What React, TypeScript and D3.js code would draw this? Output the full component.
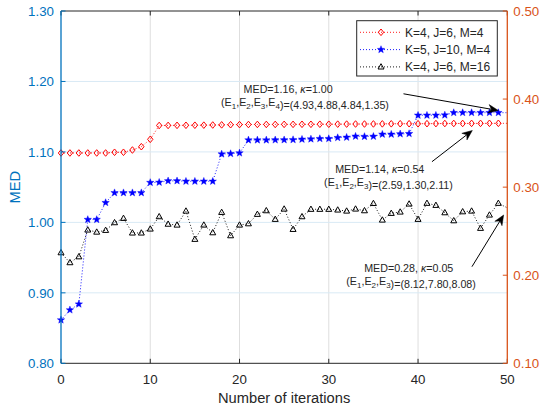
import React, { useEffect } from 'react';
import * as d3 from 'd3';

const iterations = d3.range(0, 51);

const redSeries = [
  1.0985, 1.0985, 1.0985, 1.0985, 1.0985, 1.0985, 1.0995, 1.0995, 1.1027, 1.1074,
  1.1179, 1.1375, 1.1376, 1.1377, 1.1378, 1.1379, 1.138, 1.1382, 1.1384, 1.1386,
  1.1388, 1.1389, 1.139, 1.139, 1.139, 1.1391, 1.1391, 1.1392, 1.1392, 1.1393,
  1.1393, 1.1394, 1.1395, 1.1396, 1.1396, 1.1397, 1.1398, 1.1399, 1.14, 1.14,
  1.14, 1.1401, 1.1402, 1.1403, 1.1404, 1.1404, 1.1405, 1.1405, 1.1406, 1.1406,
  1.1406,
];

const blueSeries = [
  0.8615, 0.8757, 0.884, 1.004, 1.004, 1.028, 1.042, 1.042, 1.042, 1.042,
  1.0565, 1.0568, 1.0589, 1.0589, 1.0583, 1.0583, 1.0583, 1.0583, 1.097, 1.0975,
  1.0985, 1.1169, 1.1169, 1.1169, 1.117, 1.1171, 1.1173, 1.1179, 1.1183, 1.1188,
  1.1188, 1.1202, 1.1207, 1.1222, 1.1218, 1.122, 1.125, 1.125, 1.1255, 1.1259,
  1.152, 1.152, 1.152, 1.1523, 1.1557, 1.1557, 1.1557, 1.1557, 1.1557, 1.1557,
  1.1557,
];

const blackSeries = [
  0.2256, 0.2143, 0.221, 0.2514, 0.249, 0.251, 0.2597, 0.2646, 0.248, 0.248,
  0.2525, 0.2665, 0.258, 0.257, 0.2729, 0.2408, 0.257, 0.2483, 0.2714, 0.2449,
  0.257, 0.2585, 0.2692, 0.2733, 0.2635, 0.2752, 0.2521, 0.2665, 0.2749, 0.2749,
  0.2749, 0.2741, 0.2729, 0.2752, 0.2733, 0.2815, 0.2627, 0.2703, 0.2718, 0.2809,
  0.2635, 0.2817, 0.2794, 0.271, 0.2619, 0.2721, 0.2729, 0.2533, 0.2684, 0.2817,
  0.2765,
];

const xTicks = [0, 10, 20, 30, 40, 50];
const leftTicks = [0.8, 0.9, 1.0, 1.1, 1.2, 1.3];
const rightTicks = [0.1, 0.2, 0.3, 0.4, 0.5];
const legendLabels = ['K=4, J=6, M=4', 'K=5, J=10, M=4', 'K=4, J=6, M=16'];
const xLabel = 'Number of iterations';
const yLabel = 'MED';

const annoMed = ['1.16', '1.14', '0.28'];
const annoKappa = ['1.00', '0.54', '0.05'];
const annoSubs = [['1', '2', '3', '4'], ['1', '2', '3'], ['1', '2', '3']];
const annoVals = ['(4.93,4.88,4.84,1.35)', '(2.59,1.30,2.11)', '(8.12,7.80,8.08)'];

const FONT = '"Liberation Sans", Arial, Helvetica, sans-serif';
const BLUE_AX = '#0072BD';
const ORANGE_AX = '#D95319';
const TXT = '#262626';

const W = 542;
const H = 409;
const L = 61;
const R = 507.3;
const T = 11;
const B = 363.3;

const x = d3.scaleLinear().domain([0, 50]).range([L, R]);
const yL = d3.scaleLinear().domain([0.8, 1.3]).range([B, T]);
const yR = d3.scaleLinear().domain([0.1, 0.5]).range([B, T]);

// annotation placement in data space (x: iteration, y: left-axis value)
const annoLine1 = [[25.45, 1.1836], [35.71, 1.0701], [38.96, 0.9296]];
const annoLine2 = [[27.33, 1.1658], [36.69, 1.0517], [39.22, 0.9112]];
const arrowFrom = [[38.37, 1.1825], [41.56, 1.0861], [46.04, 0.9371]];
const arrowTo = [[48.99, 1.1588], [46.08, 1.1304], [49.59, 1.0105]];

function diamondPath() {
  return 'M0,-3.3L2.7,0L0,3.3L-2.7,0Z';
}
function starPath(r: number) {
  const pts: string[] = [];
  for (let i = 0; i < 10; i++) {
    const rr = i % 2 === 0 ? r : r * 0.42;
    const a = -Math.PI / 2 + (i * Math.PI) / 5;
    pts.push(`${(rr * Math.cos(a)).toFixed(2)},${(rr * Math.sin(a)).toFixed(2)}`);
  }
  return 'M' + pts.join('L') + 'Z';
}
function trianglePath() {
  return 'M0,-3.2L3,2.1L-3,2.1Z';
}

function Marker({ kind }: { kind: number }) {
  if (kind === 0) return <path d={diamondPath()} fill="none" stroke="#FF0000" strokeWidth={1} />;
  if (kind === 1) return <path d={starPath(3.9)} fill="#0000FF" stroke="#0000FF" strokeWidth={0.4} />;
  return <path d={trianglePath()} fill="none" stroke="#000000" strokeWidth={1} />;
}

function Arrow({ from, to }: { from: number[]; to: number[] }) {
  const x1 = x(from[0]);
  const y1 = yL(from[1]);
  const x2 = x(to[0]);
  const y2 = yL(to[1]);
  const dx = x2 - x1;
  const dy = y2 - y1;
  const len = Math.hypot(dx, dy);
  const ux = dx / len;
  const uy = dy / len;
  const px = -uy;
  const py = ux;
  const hl = 10;
  const hw = 4.2;
  const bx = x2 - ux * hl;
  const by = y2 - uy * hl;
  const nx = x2 - ux * hl * 0.7;
  const ny = y2 - uy * hl * 0.7;
  const head = `M${x2},${y2}L${bx + px * hw},${by + py * hw}L${nx},${ny}L${bx - px * hw},${by - py * hw}Z`;
  return (
    <g>
      <line x1={x1} y1={y1} x2={nx} y2={ny} stroke="#000" strokeWidth={1} />
      <path d={head} fill="#000" stroke="#000" strokeWidth={0.5} />
    </g>
  );
}

export default function App() {
  useEffect(() => {
    document.body.style.margin = '0';
  }, []);

  const seriesLeft = [redSeries, blueSeries];
  const colors = ['#FF0000', '#0000FF', '#000000'];
  const lineL = d3.line<number>().x((_, i) => x(iterations[i])).y((d) => yL(d));
  const lineR = d3.line<number>().x((_, i) => x(iterations[i])).y((d) => yR(d));
  const inView = (i: number) => iterations[i] < 50;

  const tickLen = 4.5;

  return (
    <svg width={W} height={H} style={{ display: 'block', fontFamily: FONT }}>
      <rect x={0} y={0} width={W} height={H} fill="#fff" />
      <defs>
        <clipPath id="plotClip">
          <rect x={L} y={T} width={R - L} height={B - T} />
        </clipPath>
      </defs>
      {/* grid */}
      {xTicks.filter((t) => t > 0 && t < 50).map((t) => (
        <line key={'gx' + t} x1={x(t)} x2={x(t)} y1={T} y2={B} stroke="#DEDEDE" strokeWidth={1} />
      ))}
      {leftTicks.filter((t) => t > 0.8 && t < 1.3).map((t) => (
        <line key={'gy' + t} x1={L} x2={R} y1={yL(t)} y2={yL(t)} stroke="#D9EAF5" strokeWidth={1} />
      ))}

      {/* series */}
      <g clipPath="url(#plotClip)">
        {seriesLeft.map((s, k) => (
          <path key={'l' + k} d={lineL(s) || ''} fill="none" stroke={colors[k]} strokeWidth={0.9} strokeDasharray="1 2" />
        ))}
        <path d={lineR(blackSeries) || ''} fill="none" stroke="#000" strokeWidth={0.9} strokeDasharray="1 2" />
      </g>
      {blackSeries.map((v, i) =>
        inView(i) ? (
          <g key={'mb' + i} transform={`translate(${x(iterations[i])},${yR(v)})`}>
            <Marker kind={2} />
          </g>
        ) : null
      )}
      {redSeries.map((v, i) =>
        inView(i) ? (
          <g key={'mr' + i} transform={`translate(${x(iterations[i])},${yL(v)})`}>
            <Marker kind={0} />
          </g>
        ) : null
      )}
      {blueSeries.map((v, i) =>
        inView(i) ? (
          <g key={'mu' + i} transform={`translate(${x(iterations[i])},${yL(v)})`}>
            <Marker kind={1} />
          </g>
        ) : null
      )}

      {/* axes */}
      <line x1={L} x2={R} y1={T} y2={T} stroke={TXT} strokeWidth={1} />
      <line x1={L} x2={R} y1={B} y2={B} stroke={TXT} strokeWidth={1} />
      {xTicks.map((t) => (
        <g key={'xt' + t}>
          <line x1={x(t)} x2={x(t)} y1={B} y2={B - tickLen} stroke={TXT} strokeWidth={1} />
          <line x1={x(t)} x2={x(t)} y1={T} y2={T + tickLen} stroke={TXT} strokeWidth={1} />
          <text x={x(t)} y={384} textAnchor="middle" fontSize={13.3} fill={TXT}>
            {t}
          </text>
        </g>
      ))}
      <line x1={L} x2={L} y1={T} y2={B} stroke={BLUE_AX} strokeWidth={1.3} />
      {leftTicks.map((t) => (
        <g key={'yl' + t}>
          <line x1={L} x2={L + tickLen} y1={yL(t)} y2={yL(t)} stroke={BLUE_AX} strokeWidth={1} />
          <text x={L - 7} y={yL(t)} dy="0.36em" textAnchor="end" fontSize={13.3} fill={BLUE_AX}>
            {t.toFixed(2)}
          </text>
        </g>
      ))}
      <line x1={R} x2={R} y1={T} y2={B} stroke={ORANGE_AX} strokeWidth={1.3} />
      {rightTicks.map((t) => (
        <g key={'yr' + t}>
          <line x1={R} x2={R - tickLen} y1={yR(t)} y2={yR(t)} stroke={ORANGE_AX} strokeWidth={1} />
          <text x={R + 6} y={yR(t)} dy="0.36em" textAnchor="start" fontSize={13.3} fill={ORANGE_AX}>
            {t.toFixed(2)}
          </text>
        </g>
      ))}

      {/* axis labels */}
      <text x={(L + R) / 2} y={402.5} textAnchor="middle" fontSize={14.7} fill={TXT}>
        {xLabel}
      </text>
      <text transform={`translate(19.5,${(T + B) / 2}) rotate(-90)`} textAnchor="middle" fontSize={14.7} fill={BLUE_AX}>
        {yLabel}
      </text>

      {/* annotations */}
      {annoMed.map((m, k) => (
        <g key={'an' + k} fontSize={10.7} fill={TXT}>
          <text x={x(annoLine1[k][0])} y={yL(annoLine1[k][1])} textAnchor="middle">
            {`MED=${m}, `}
            <tspan fontStyle="italic">κ</tspan>
            {`=${annoKappa[k]}`}
          </text>
          <text x={x(annoLine2[k][0])} y={yL(annoLine2[k][1])} textAnchor="middle">
            {'('}
            {annoSubs[k].map((s, j) => (
              <React.Fragment key={j}>
                <tspan>{'E'}</tspan>
                <tspan dy={3.5} fontSize={8}>
                  {s}
                </tspan>
                <tspan dy={-3.5}>{j < annoSubs[k].length - 1 ? ',' : ''}</tspan>
              </React.Fragment>
            ))}
            {')=' + annoVals[k]}
          </text>
          <Arrow from={arrowFrom[k]} to={arrowTo[k]} />
        </g>
      ))}

      {/* legend */}
      <g>
        <rect x={356.7} y={20.7} width={140.6} height={55.3} fill="#fff" stroke={TXT} strokeWidth={1} />
        {legendLabels.map((lab, k) => {
          const ly = 32.3 + k * 17.3;
          return (
            <g key={'lg' + k}>
              <line x1={360} x2={401} y1={ly} y2={ly} stroke={colors[k]} strokeWidth={0.9} strokeDasharray="1 2" />
              <g transform={`translate(381,${ly})`}>
                <Marker kind={k} />
              </g>
              <text x={405} y={ly} dy="0.36em" fontSize={12} fill={TXT}>
                {lab}
              </text>
            </g>
          );
        })}
      </g>
    </svg>
  );
}
